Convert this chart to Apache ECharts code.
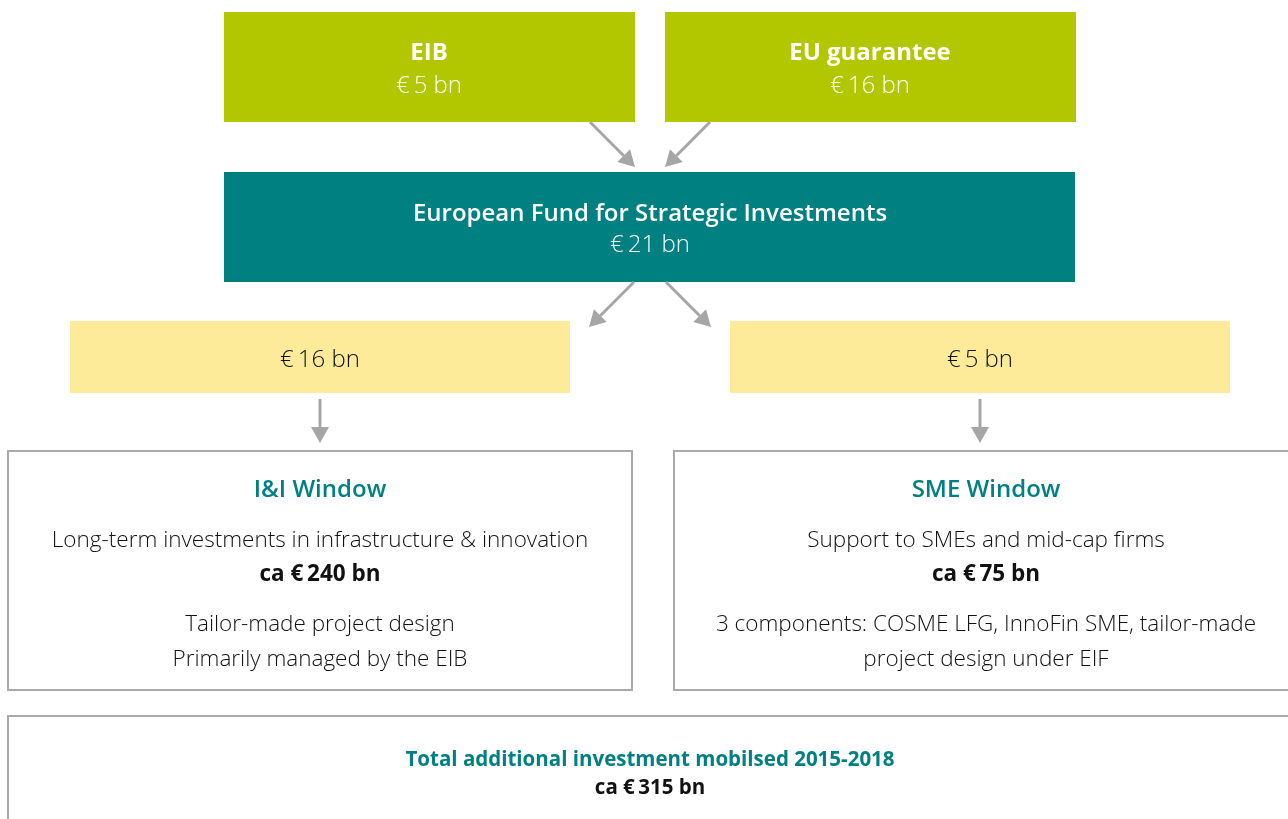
<!DOCTYPE html>
<html>
<head>
<meta charset="utf-8">
<script src="https://cdn.jsdelivr.net/npm/echarts@6/dist/echarts.min.js"></script>
<style>
  html, body { margin: 0; padding: 0; background: #fff; }
  #main { width: 1288px; height: 819px; }
</style>
</head>
<body>
<div id="main"></div>
<script>
// amounts in € bn
const sources = ['EIB', 'EU guarantee']
const sourceAmounts = [5, 16]
const fundName = 'European Fund for Strategic Investments'
const fundAmount = 21
const windowAllocations = [16, 5]
const windowNames = ['I&I Window', 'SME Window']
const windowPurposes = ['Long-term investments in infrastructure & innovation', 'Support to SMEs and mid-cap firms']
const windowMobilised = [240, 75]
const windowNotes = [
  ['Tailor-made project design', 'Primarily managed by the EIB'],
  ['3 components: COSME LFG, InnoFin SME, tailor-made', 'project design under EIF']
]
const totalTitle = 'Total additional investment mobilsed 2015-2018'
const totalAmount = 315

const FONT = '"Open Sans", "DejaVu Sans", sans-serif'
const GREEN = '#b3c700'
const TEAL = '#008080'
const YELLOW = '#feeb99'
const GREY = '#a6a6a6'

const eur = (v) => '€\u2009' + v + ' bn'

function box(x, y, w, h, fill, stroke) {
  return {
    type: 'rect',
    shape: { x: x, y: y, width: w, height: h },
    style: stroke
      ? { fill: '#fff', stroke: stroke, lineWidth: 2 }
      : { fill: fill }
  }
}

function txt(x, y, text, size, color, weight) {
  return {
    type: 'text',
    x: x,
    y: y,
    style: {
      text: text,
      fill: color,
      font: (weight || 'normal') + ' ' + size + 'px ' + FONT,
      align: 'center',
      verticalAlign: 'middle'
    }
  }
}

// straight arrow with a filled head at (x2, y2)
function arrow(x1, y1, x2, y2) {
  const ang = Math.atan2(y2 - y1, x2 - x1)
  const len = 16, half = 9
  const bx = x2 - len * Math.cos(ang), by = y2 - len * Math.sin(ang)
  const px = -Math.sin(ang) * half, py = Math.cos(ang) * half
  return [
    {
      type: 'line',
      shape: { x1: x1, y1: y1, x2: bx, y2: by },
      style: { stroke: GREY, lineWidth: 3 }
    },
    {
      type: 'polygon',
      shape: { points: [[x2, y2], [bx + px, by + py], [bx - px, by - py]] },
      style: { fill: GREY }
    }
  ]
}

const g = []

// top sources
const srcX = [224, 665]
sources.forEach((name, i) => {
  g.push(box(srcX[i], 12, 411, 110, GREEN))
  g.push(txt(srcX[i] + 205, 53, name, 24, '#fff', 'bold'))
  g.push(txt(srcX[i] + 205, 86, eur(sourceAmounts[i]), 24, '#fff', '300'))
})
g.push(...arrow(590, 122, 635, 167))
g.push(...arrow(710, 122, 665, 167))

// fund
g.push(box(224, 172, 851, 110, TEAL))
g.push(txt(650, 214, fundName, 24, '#fff', '600'))
g.push(txt(650, 245, eur(fundAmount), 24, '#fff', '300'))
g.push(...arrow(634, 282, 589, 327))
g.push(...arrow(666, 282, 711, 327))

// allocations
const allocX = [70, 730]
windowAllocations.forEach((v, i) => {
  g.push(box(allocX[i], 321, 500, 72, YELLOW))
  g.push(txt(allocX[i] + 250, 360, eur(v), 24, '#111', '300'))
  g.push(...arrow(allocX[i] + 250, 399, allocX[i] + 250, 443))
})

// windows
const winX = [8, 674]
const winW = [624, 630]
windowNames.forEach((name, i) => {
  const cx = winX[i] + 312
  g.push(box(winX[i], 451, winW[i], 239, null, '#aaaaaa'))
  g.push(txt(cx, 490, name, 24, TEAL, '600'))
  g.push(txt(cx, 541, windowPurposes[i], 22.5, '#111', '300'))
  g.push(txt(cx, 575, 'ca ' + eur(windowMobilised[i]), 22.5, '#111', 'bold'))
  windowNotes[i].forEach((line, j) => {
    g.push(txt(cx, 625 + j * 35, line, 22.5, '#111', '300'))
  })
})

// total
g.push(box(8, 716, 1290, 120, null, '#aaaaaa'))
g.push(txt(650, 760, totalTitle, 20.5, TEAL, 'bold'))
g.push(txt(650, 788, 'ca ' + eur(totalAmount), 20.5, '#111', 'bold'))

const chart = echarts.init(document.getElementById('main'))
chart.setOption({
  backgroundColor: '#fff',
  animation: false,
  graphic: { elements: g }
})
window.addEventListener('resize', () => chart.resize())
</script>
</body>
</html>
